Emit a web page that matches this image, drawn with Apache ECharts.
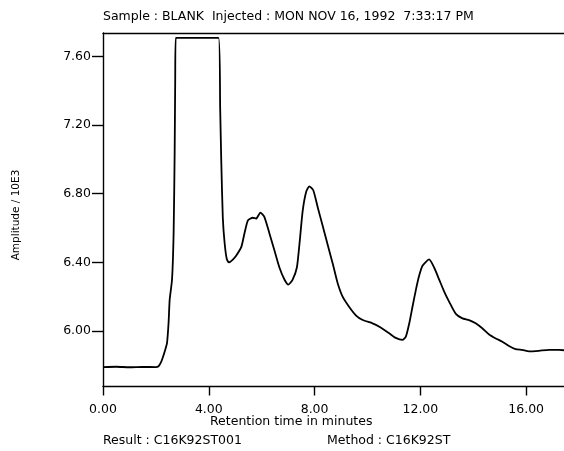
<!DOCTYPE html>
<html>
<head>
<meta charset="utf-8">
<script src="https://cdn.jsdelivr.net/npm/echarts@6/dist/echarts.min.js"></script>
<style>
html,body{margin:0;padding:0;background:#fff;}
#chart{width:564px;height:451px;}
</style>
</head>
<body>
<div id="chart"></div>
<script>
// Retention time (minutes)
var retentionTime = [0, 0.5, 1.0, 1.5, 2.0, 2.1, 2.2, 2.27, 2.35, 2.42, 2.48, 2.52, 2.61, 2.67, 2.71, 2.73, 2.75,
  4.37, 4.43, 4.47, 4.53, 4.60, 4.68, 4.76, 4.90, 5.04, 5.23, 5.35, 5.48, 5.66, 5.79, 5.95, 6.10, 6.29, 6.48, 6.67,
  6.86, 7.01, 7.17, 7.33, 7.43, 7.55, 7.68, 7.80, 7.95, 8.12, 8.31, 8.50, 8.69, 8.87, 9.06, 9.31, 9.57, 9.82,
  10.19, 10.45, 10.82, 11.07, 11.32, 11.45, 11.58, 11.70, 11.83, 11.95, 12.08, 12.33, 12.52, 12.71, 12.90, 13.09,
  13.34, 13.59, 13.84, 14.09, 14.34, 14.60, 14.85, 15.10, 15.35, 15.60, 15.85, 16.11, 16.48, 16.86, 17.24, 17.43];
// Amplitude / 10E3
var amplitude = [5.790, 5.792, 5.789, 5.791, 5.790, 5.795, 5.820, 5.850, 5.890, 5.930, 6.050, 6.180, 6.300, 6.570, 7.050, 7.460, 7.708,
  7.708, 7.300, 7.000, 6.660, 6.510, 6.420, 6.400, 6.415, 6.440, 6.490, 6.570, 6.645, 6.660, 6.655, 6.690, 6.665, 6.570, 6.470, 6.370,
  6.300, 6.270, 6.300, 6.370, 6.510, 6.700, 6.810, 6.843, 6.820, 6.720, 6.610, 6.500, 6.390, 6.280, 6.200, 6.140, 6.090, 6.064,
  6.045, 6.025, 5.987, 5.960, 5.948, 5.967, 6.045, 6.140, 6.240, 6.320, 6.380, 6.417, 6.370, 6.300, 6.230, 6.170,
  6.100, 6.074, 6.064, 6.045, 6.016, 5.980, 5.957, 5.938, 5.913, 5.895, 5.890, 5.882, 5.885, 5.890, 5.890, 5.888];
var xTicks = [0, 4, 8, 12, 16];
var yTicks = [6.0, 6.4, 6.8, 7.2, 7.6];

var titleText = 'Sample : BLANK  Injected : MON NOV 16, 1992  7:33:17 PM';
var xName = 'Retention time in minutes';
var yName = 'Amplitude / 10E3';
var resultText = 'Result : C16K92ST001';
var methodText = 'Method : C16K92ST';

var FONT = 'DejaVu Sans';
var pts = retentionTime.map(function (t, i) { return [t, amplitude[i]]; });

var chart = echarts.init(document.getElementById('chart'), null, {renderer: 'canvas'});
chart.setOption({
  backgroundColor: '#fff',
  animation: false,
  grid: {left: 103, right: 0, top: 33, bottom: 64.5},
  xAxis: [{
    type: 'value', min: 0, max: 17.43,
    axisLine: {lineStyle: {color: '#000', width: 1.4}},
    axisTick: {customValues: xTicks, length: 9, lineStyle: {color: '#000', width: 1.4}},
    axisLabel: {customValues: xTicks, margin: 17, color: '#000', fontFamily: FONT, fontSize: 12.5,
      formatter: function (v) { return v.toFixed(2); }},
    splitLine: {show: false}
  }, {
    type: 'value', position: 'top', min: 0, max: 17.43,
    axisLine: {show: true, lineStyle: {color: '#000', width: 1.4}},
    axisTick: {show: false}, axisLabel: {show: false}, splitLine: {show: false}
  }],
  yAxis: {
    type: 'value', min: 5.677, max: 7.736,
    axisLine: {show: true, lineStyle: {color: '#000', width: 1.4}},
    axisTick: {show: true, customValues: yTicks, length: 11, lineStyle: {color: '#000', width: 1.4}},
    axisLabel: {customValues: yTicks, margin: 12, color: '#000', fontFamily: FONT, fontSize: 12.5,
      formatter: function (v) { return v.toFixed(2); }},
    splitLine: {show: false}
  },
  graphic: [
    {type: 'text', left: 103, top: 10, style: {text: titleText, fill: '#000', font: '12.5px "' + FONT + '"'}},
    {type: 'text', left: 210, top: 415, style: {text: xName, fill: '#000', font: '12.5px "' + FONT + '"'}},
    {type: 'text', left: 103, top: 434, style: {text: resultText, fill: '#000', font: '12.5px "' + FONT + '"'}},
    {type: 'text', left: 327, top: 434, style: {text: methodText, fill: '#000', font: '12.5px "' + FONT + '"'}},
    {type: 'text', x: 16, y: 215, rotation: Math.PI / 2,
      style: {text: yName, fill: '#000', font: '10.5px "' + FONT + '"', align: 'center', verticalAlign: 'middle'}}
  ],
  series: [{
    type: 'line', data: pts, showSymbol: false, smooth: 0.2,
    lineStyle: {color: '#000', width: 1.8}
  }]
});
</script>
</body>
</html>
